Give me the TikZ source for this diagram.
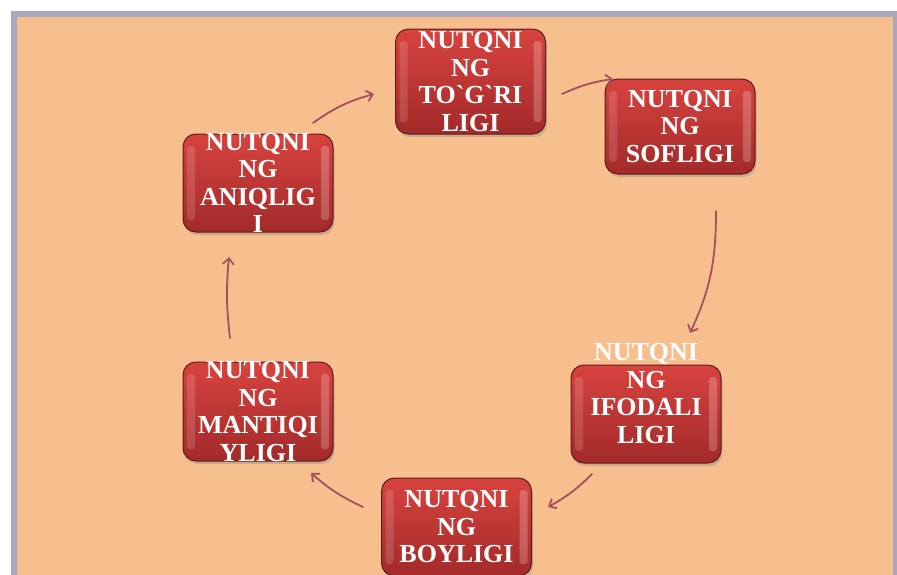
\documentclass[tikz,border=0pt]{standalone}
\usepackage{fontspec}
\setmainfont{Liberation Serif}
\usetikzlibrary{shadows,arrows.meta}
\definecolor{peach}{HTML}{F8BF8E}
\definecolor{framegray}{HTML}{ABA6BC}
\definecolor{boxtop}{HTML}{D8433F}
\definecolor{boxbot}{HTML}{A22A29}
\definecolor{boxedge}{HTML}{5E1A1C}
\definecolor{arrowc}{HTML}{A4505E}
\begin{document}
\begin{tikzpicture}[x=1pt,y=-1pt,
  redbox/.style={rounded corners=13pt, draw=boxedge, line width=1pt,
    top color=boxtop, bottom color=boxbot,
    minimum width=150pt, minimum height=98pt, inner sep=0pt,
    drop shadow={shadow xshift=1.5pt,shadow yshift=-3pt,opacity=.35},
    path picture={
      \fill[white,opacity=.14,rounded corners=3pt]
        ([xshift=4pt,yshift=-12pt]path picture bounding box.north west)
        rectangle ([xshift=12pt,yshift=12pt]path picture bounding box.south west);
      \fill[white,opacity=.22,rounded corners=3pt]
        ([xshift=-12pt,yshift=-12pt]path picture bounding box.north east)
        rectangle ([xshift=-4pt,yshift=12pt]path picture bounding box.south east);
    }},
  boxlabel/.style={text=white, align=center, inner sep=0pt,
    font=\fontsize{26}{27.5}\selectfont\bfseries},
  cyc/.style={draw=arrowc, line width=1.8pt, line cap=round,
    -{Straight Barb[length=6pt,width=11pt]}}]
\useasboundingbox (0,0) rectangle (897,574);
\clip (0,0) rectangle (897,574);
\fill[white] (0,0) rectangle (897,574);
\fill[framegray] (11,11) rectangle (897,580);
\fill[peach] (17,17) rectangle (893,580);

\node[redbox, minimum height=105pt] (b1) at (470.5,81.5) {};
\node[boxlabel] (t1) at (b1) {NUTQNI\\NG\\TO\textasciigrave G\textasciigrave RI\\LIGI};
\node[redbox, minimum height=95pt] (b2) at (680,126.5) {};
\node[boxlabel] (t2) at (b2) {NUTQNI\\NG\\SOFLIGI};
\node[redbox] (b5) at (646,414) {};
\node[boxlabel] (t5) at ([yshift=20.5pt]b5) {NUTQNI\\NG\\IFODALI\\LIGI};
\node[redbox] (b6) at (456.5,527) {};
\node[boxlabel] (t6) at (b6) {NUTQNI\\NG\\BOYLIGI};
\node[redbox, minimum height=99pt] (b4) at (258,411.5) {};
\node[boxlabel] (t4) at (b4) {NUTQNI\\NG\\MANTIQI\\YLIGI};
\node[redbox] (b3) at (258,183) {};
\node[boxlabel] (t3) at (b3) {NUTQNI\\NG\\ANIQLIG\\I};

\coordinate (a1s) at (313,123); \coordinate (a1e) at (374,94);
\coordinate (a2s) at (562,94);  \coordinate (a2e) at (613,79);
\coordinate (a3s) at (716,211); \coordinate (a3e) at (690,333);
\coordinate (a4s) at (592,474); \coordinate (a4e) at (548,507);
\coordinate (a5s) at (363,507); \coordinate (a5e) at (311,473);
\coordinate (a6s) at (230,338); \coordinate (a6e) at (229,257);

\draw[cyc] (a1s) to[bend left=10] (a1e);
\draw[cyc] (a2s) to[bend left=8] (a2e);
\draw[cyc] (a3s) to[out=-90,in=65] (a3e);
\draw[cyc] (a4s) to[bend left=8] (a4e);
\draw[cyc] (a5s) to[bend left=8] (a5e);
\draw[cyc] (a6s) to[bend left=6] (a6e);
\end{tikzpicture}
\end{document}
